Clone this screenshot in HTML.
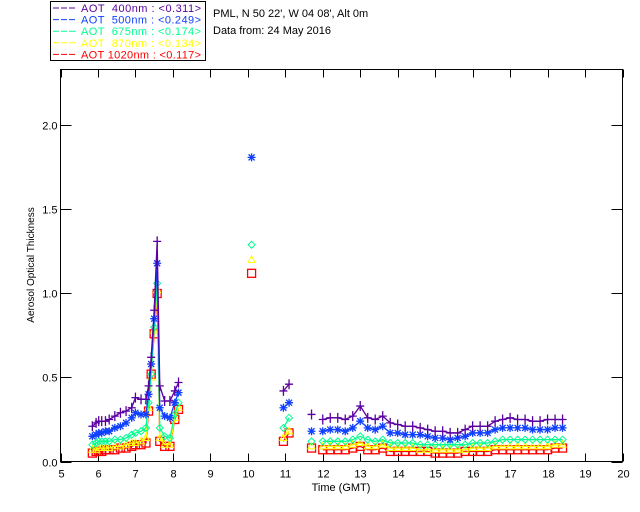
<!DOCTYPE html>
<html><head><meta charset="utf-8"><style>
html,body{margin:0;padding:0;background:#fff;width:640px;height:512px;overflow:hidden}
svg{display:block;font-family:"Liberation Sans",sans-serif}
.pre{white-space:pre}
</style></head><body>
<svg id="chart" width="640" height="512" viewBox="0 0 640 512" xmlns="http://www.w3.org/2000/svg">
<rect x="0" y="0" width="640" height="512" fill="#fff"/>
<g id="legend">
<rect x="50.5" y="1.5" width="155" height="59" fill="none" stroke="#000" stroke-width="1"/>
</g>
<text x="213" y="17" font-size="11">PML, N 50 22', W 04 08', Alt 0m</text>
<text x="213" y="34" font-size="11">Data from: 24 May 2016</text>
<g id="axes"></g>
<g id="marks"></g>
<text x="341" y="491" font-size="11" text-anchor="middle">Time (GMT)</text>
<text x="0" y="0" font-size="10" text-anchor="middle" transform="translate(34,265) rotate(-90)">Aerosol Optical Thickness</text>
</svg>
<script>
const xTicks=[5,6,7,8,9,10,11,12,13,14,15,16,17,18,19,20];
const yTicks=[0,0.5,1.0,1.5,2.0];
const yTickLabels=["0.0","0.5","1.0","1.5","2.0"];
const seriesNames=["AOT  400nm","AOT  500nm","AOT  675nm","AOT  870nm","AOT 1020nm"];
const seriesMeans=["<0.311>","<0.249>","<0.174>","<0.134>","<0.117>"];
const tEarly=[5.85,5.95,6.02,6.1,6.2,6.3,6.45,6.6,6.75,6.9,7.0,7.15,7.28,7.35,7.42,7.5,7.58,7.65,7.78,7.92,8.05,8.15];
const a400Early=[0.21,0.23,0.24,0.24,0.24,0.25,0.27,0.29,0.30,0.32,0.38,0.37,0.37,0.45,0.62,0.90,1.31,0.45,0.36,0.36,0.42,0.47];
const a500Early=[0.15,0.16,0.17,0.17,0.18,0.18,0.20,0.21,0.23,0.26,0.29,0.28,0.28,0.40,0.58,0.85,1.18,0.32,0.27,0.26,0.35,0.41];
const a675Early=[0.10,0.11,0.12,0.12,0.12,0.12,0.13,0.13,0.14,0.16,0.17,0.18,0.20,0.35,0.52,0.80,1.06,0.20,0.15,0.14,0.28,0.35];
const a870Early=[0.07,0.07,0.08,0.08,0.08,0.08,0.09,0.09,0.10,0.11,0.11,0.12,0.14,0.32,0.50,0.78,1.02,0.14,0.10,0.10,0.26,0.32];
const a1020Early=[0.05,0.06,0.06,0.06,0.07,0.07,0.07,0.08,0.08,0.09,0.10,0.10,0.11,0.30,0.52,0.76,1.00,0.12,0.09,0.09,0.25,0.31];
const tNoon=[10.1];
const a400Noon=[null];
const a500Noon=[1.81];
const a675Noon=[1.29];
const a870Noon=[1.20];
const a1020Noon=[1.12];
const tMid=[10.95,11.1];
const a400Mid=[0.42,0.46];
const a500Mid=[0.32,0.35];
const a675Mid=[0.20,0.26];
const a870Mid=[0.14,0.18];
const a1020Mid=[0.12,0.17];
const tSingle=[11.7];
const a400Single=[0.28];
const a500Single=[0.18];
const a675Single=[0.12];
const a870Single=[0.09];
const a1020Single=[0.08];
const tLate=[12.0,12.2,12.4,12.6,12.8,13.0,13.2,13.4,13.6,13.8,14.0,14.2,14.4,14.6,14.8,15.0,15.2,15.4,15.6,15.8,16.0,16.2,16.4,16.6,16.8,17.0,17.2,17.4,17.6,17.8,18.0,18.2,18.4];
const a400Late=[.25,.26,.26,.25,.27,.33,.26,.25,.27,.23,.22,.21,.21,.20,.19,.18,.18,.17,.17,.19,.21,.21,.21,.24,.25,.26,.25,.25,.24,.24,.25,.25,.25];
const a500Late=[.18,.19,.19,.18,.20,.24,.20,.19,.21,.17,.17,.16,.16,.16,.15,.14,.14,.13,.14,.15,.17,.17,.17,.19,.20,.20,.20,.20,.19,.19,.19,.20,.20];
const a675Late=[.12,.12,.12,.12,.13,.15,.13,.12,.13,.11,.11,.11,.11,.10,.10,.10,.10,.10,.10,.10,.11,.11,.11,.12,.13,.13,.13,.13,.13,.13,.13,.13,.13];
const a870Late=[.09,.09,.09,.09,.10,.11,.09,.09,.10,.08,.08,.08,.08,.07,.07,.07,.07,.07,.07,.07,.08,.08,.08,.09,.09,.09,.09,.09,.09,.09,.09,.10,.10];
const a1020Late=[.07,.07,.07,.07,.08,.09,.07,.07,.08,.06,.06,.06,.06,.06,.06,.05,.05,.05,.05,.06,.06,.06,.06,.07,.07,.07,.07,.07,.07,.07,.07,.08,.08];

const NS="http://www.w3.org/2000/svg";
const X0=60.5,X1=622.5,Y0=461.5,Y1=69.5,XMIN=5,XMAX=20,YMIN=0,YMAX=2.333;
function xs(v){return X0+(v-XMIN)/(XMAX-XMIN)*(X1-X0);}
function ys(v){return Y0-(v-YMIN)/(YMAX-YMIN)*(Y0-Y1);}
function mk(tag,attrs,parent){const e=document.createElementNS(NS,tag);for(const k in attrs)e.setAttribute(k,attrs[k]);parent.appendChild(e);return e;}
const axes=document.getElementById('axes');
const marks=document.getElementById('marks');
const frame=mk('rect',{x:X0,y:Y1,width:X1-X0,height:Y0-Y1,fill:'none',stroke:'#000','stroke-width':1},axes);


xTicks.forEach(v=>{
  const x=Math.round(xs(v))+0.5;
  const t=mk('line',{x1:x,y1:Y0,x2:x,y2:Y0-8,stroke:'#000'},axes);
  
  
  const t2=mk('line',{x1:x,y1:Y1,x2:x,y2:Y1+8,stroke:'#000'},axes);
  
  
  const l=mk('text',{x:x,y:Y0+16,'font-size':11,'text-anchor':'middle'},axes);
  l.textContent=String(v);
  
  
});
yTicks.forEach((v,i)=>{
  const y=Math.round(ys(v))+0.5;
  const t=mk('line',{x1:X0,y1:y,x2:X0+11,y2:y,stroke:'#000'},axes);
  
  
  const t2=mk('line',{x1:X1,y1:y,x2:X1-11,y2:y,stroke:'#000'},axes);
  
  
  const l=mk('text',{x:X0-3,y:y+4,'font-size':11,'text-anchor':'end'},axes);
  l.textContent=yTickLabels[i];
  
  
});
const colors=["#5a00a0","#1040ff","#00ff90","#ffff00","#ff0000"];
const markerTypes=["plus","star","diamond","triangle","square"];
const segTimes=[tEarly,tNoon,tMid,tSingle,tLate];
const segVals=[[a400Early,a500Early,a675Early,a870Early,a1020Early],[a400Noon,a500Noon,a675Noon,a870Noon,a1020Noon],[a400Mid,a500Mid,a675Mid,a870Mid,a1020Mid],[a400Single,a500Single,a675Single,a870Single,a1020Single],[a400Late,a500Late,a675Late,a870Late,a1020Late]];
function marker(type,x,y,c,g){
  let e;
  if(type==='plus'){e=mk('path',{d:`M${x-4},${y}H${x+4}M${x},${y-5}V${y+5}`,stroke:c,'stroke-width':1.3,fill:'none'},g);}
  else if(type==='star'){e=mk('path',{d:`M${x-4},${y}H${x+4}M${x},${y-4}V${y+4}M${x-3},${y-3}L${x+3},${y+3}M${x-3},${y+3}L${x+3},${y-3}`,stroke:c,'stroke-width':1.3,fill:'none'},g);}
  else if(type==='diamond'){e=mk('path',{d:`M${x},${y-3.5}L${x+3.5},${y}L${x},${y+3.5}L${x-3.5},${y}Z`,stroke:c,fill:'none'},g);}
  else if(type==='triangle'){e=mk('path',{d:`M${x},${y-4}L${x+3.5},${y+2.5}L${x-3.5},${y+2.5}Z`,stroke:c,fill:'none'},g);}
  else {e=mk('rect',{x:x-4,y:y-4,width:8,height:8,stroke:c,'stroke-width':1.3,fill:'none'},g);}
  return e;
}
for(let s=4;s>=0;s--){
  const g=mk('g',{},marks);
  
  
  segTimes.forEach((ts,k)=>{
    const vs=segVals[k][s];
    const pts=[];
    ts.forEach((t,i)=>{if(vs[i]!==null)pts.push([xs(t),ys(vs[i])]);});
    if(pts.length>1){
      const pl=mk('polyline',{points:pts.map(p=>p.join(',')).join(' '),fill:'none',stroke:colors[s],'stroke-width':1.3},g);
      
      
    }
    pts.forEach(p=>{
      const m=marker(markerTypes[s],p[0],p[1],colors[s],g);
      
      
    });
  });
}
const leg=document.getElementById('legend');
seriesNames.forEach((n,i)=>{
  const y=8+i*11.6;
  const ln=mk('line',{x1:53,y1:y,x2:75,y2:y,stroke:colors[i],'stroke-dasharray':'6,2','stroke-width':1},leg);
  
  
  const tx=mk('text',{x:81,y:y+4,'font-size':11,fill:colors[i],'class':'pre',textLength:120,lengthAdjust:'spacing'},leg);
  tx.textContent=n+' : '+seriesMeans[i];
  
  
});
</script>
</body></html>
